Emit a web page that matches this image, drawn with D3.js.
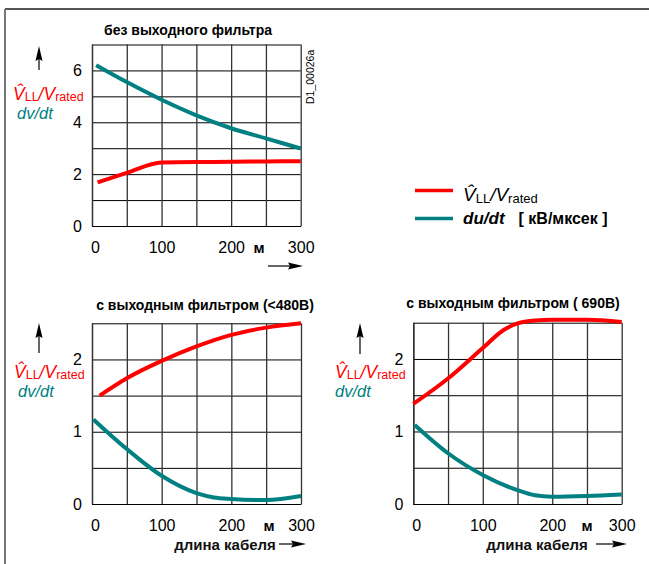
<!DOCTYPE html>
<html>
<head>
<meta charset="utf-8">
<script src="https://cdn.jsdelivr.net/npm/d3@7"></script>
<style>
  body { margin: 0; background: #fff; }
  text { font-family: "Liberation Sans", Arial, sans-serif; }
</style>
</head>
<body>
<svg id="chart" width="649" height="564"></svg>
<script>
// cable length ticks, m
const xGrid = [0, 50, 100, 150, 200, 250, 300];
const xTicks = [0, 100, 200, 300];

// panel 1: без выходного фильтра
const p1VDist = [8, 50, 100, 175, 250, 300];
const p1V = [1.68, 2.05, 2.45, 2.47, 2.49, 2.5];
const p1DvDist = [6, 50, 100, 150, 200, 250, 300];
const p1Dv = [6.2, 5.55, 4.87, 4.27, 3.77, 3.38, 2.99];
const p1YGrid = [0, 1, 2, 3, 4, 5, 6, 7];
const p1YTicks = [0, 2, 4, 6];

// panel 2: с выходным фильтром (<480В)
const p2VDist = [11, 50, 100, 150, 200, 250, 300];
const p2V = [1.5, 1.74, 1.98, 2.18, 2.34, 2.44, 2.5];
const p2DvDist = [2, 50, 100, 150, 175, 200, 250, 300];
const p2Dv = [1.17, 0.76, 0.39, 0.15, 0.09, 0.07, 0.055, 0.11];

// panel 3: с выходным фильтром ( 690В)
const p3VDist = [0, 50, 100, 130, 150, 175, 200, 250, 300];
const p3V = [1.38, 1.73, 2.15, 2.4, 2.49, 2.53, 2.54, 2.54, 2.51];
const p3DvDist = [2, 50, 100, 150, 175, 200, 250, 300];
const p3Dv = [1.09, 0.70, 0.40, 0.19, 0.12, 0.10, 0.11, 0.13];

const filtYGrid = [0, 0.5, 1, 1.5, 2, 2.5];
const filtYTicks = [0, 1, 2];

const red = "#ff0000";
const teal = "#008080";

let svg = d3.select("#chart");

// frame
svg.append("line").attr("x1", 5).attr("x2", 649).attr("y1", 9).attr("y2", 9)
    .attr("stroke", "#555").attr("stroke-width", 2);
svg.append("line").attr("x1", 5).attr("x2", 5).attr("y1", 9).attr("y2", 564)
    .attr("stroke", "#777").attr("stroke-width", 2);

let panels = [
    {title: "без выходного фильтра", titleX: 188, titleY: 35,
     x0: 92, x1: 300.7, y0: 226, y1: 44.5, ymax: 7, yGrid: p1YGrid, yTicks: p1YTicks,
     mX: 259, arrowY: 266, arrowX: 268, arrowX2: 303, showLength: false,
     vArrowX: 39, vArrowTop: 46, vArrowBot: 70, labX: 13, labX2: 17, labY: 100, labY2: 119,
     v: [p1VDist, p1V], dv: [p1DvDist, p1Dv]},
    {title: "с выходным фильтром (<480В)", titleX: 205, titleY: 309.5,
     x0: 92, x1: 301, y0: 504, y1: 323.3, ymax: 2.5, yGrid: filtYGrid, yTicks: filtYTicks,
     mX: 269, arrowY: 544, arrowX: 279, arrowX2: 306, showLength: true, lenX: 225,
     vArrowX: 39, vArrowTop: 323, vArrowBot: 353, labX: 14, labX2: 18, labY: 378, labY2: 397,
     v: [p2VDist, p2V], dv: [p2DvDist, p2Dv]},
    {title: "с выходным фильтром ( 690В)", titleX: 513, titleY: 308,
     x0: 413.3, x1: 621.7, y0: 504, y1: 322.7, ymax: 2.5, yGrid: filtYGrid, yTicks: filtYTicks,
     mX: 587, arrowY: 544, arrowX: 596, arrowX2: 627, showLength: true, lenX: 537,
     vArrowX: 360, vArrowTop: 323, vArrowBot: 354, labX: 335, labX2: 335, labY: 378, labY2: 397,
     v: [p3VDist, p3V], dv: [p3DvDist, p3Dv]}
];

function drawPanel(p) {
    let g = svg.append("g");
    let xScale = d3.scaleLinear().domain([0, 300]).range([p.x0, p.x1]);
    let yScale = d3.scaleLinear().domain([0, p.ymax]).range([p.y0, p.y1]);

    // horizontal grid lines
    g.append("g")
        .attr("transform", "translate(" + p.x0 + ",0)")
        .call(d3.axisRight(yScale).tickValues(p.yGrid).tickSize(p.x1 - p.x0)
            .tickFormat("").tickSizeOuter(0))
        .call(a => a.selectAll("line").attr("stroke", "#000").attr("stroke-width", 1))
        .call(a => a.select(".domain").attr("stroke", "#000").attr("stroke-width", 1.2));

    // vertical grid lines
    g.append("g")
        .attr("transform", "translate(0," + p.y0 + ")")
        .call(d3.axisTop(xScale).tickValues(xGrid).tickSize(p.y0 - p.y1)
            .tickFormat("").tickSizeOuter(0))
        .call(a => a.selectAll("line").attr("stroke", "#333").attr("stroke-width", 1.3))
        .call(a => a.select(".domain").attr("stroke", "#000").attr("stroke-width", 1.2));

    // y tick labels
    g.append("g")
        .attr("transform", "translate(" + p.x0 + ",0)")
        .call(d3.axisLeft(yScale).tickValues(p.yTicks).tickSize(0).tickPadding(10)
            .tickFormat(d3.format("d")))
        .call(a => a.select(".domain").remove())
        .call(a => a.selectAll("text").attr("font-size", 16).attr("fill", "#000")
            .attr("font-family", "Liberation Sans, Arial, sans-serif"));

    // x tick labels
    g.append("g")
        .attr("transform", "translate(0," + p.y0 + ")")
        .call(d3.axisBottom(xScale).tickValues(xTicks).tickSize(0).tickPadding(15.5)
            .tickFormat(d3.format("d")))
        .call(a => a.select(".domain").remove())
        .call(a => a.selectAll("text").attr("font-size", 16).attr("fill", "#000")
            .attr("font-family", "Liberation Sans, Arial, sans-serif")
            .attr("dx", d => d === 0 ? 3 : 0));

    // unit
    g.append("text").attr("x", p.mX).attr("y", p.y0 + 27)
        .attr("text-anchor", "middle").attr("font-size", 15).attr("font-weight", "bold")
        .text("м");

    // x arrow
    g.append("line").attr("x1", p.arrowX).attr("x2", p.arrowX2 - 10)
        .attr("y1", p.arrowY).attr("y2", p.arrowY).attr("stroke", "#000").attr("stroke-width", 1.2);
    g.append("path")
        .attr("d", "M" + p.arrowX2 + "," + p.arrowY + " l-15,-3.5 l2,3.5 l-2,3.5 z")
        .attr("fill", "#000");

    if (p.showLength) {
        g.append("text").attr("x", p.lenX).attr("y", p.arrowY + 6)
            .attr("text-anchor", "middle").attr("font-size", 15).attr("font-weight", "bold")
            .attr("fill", "#111")
            .text("длина кабеля");
    }

    // y arrow
    g.append("line").attr("x1", p.vArrowX).attr("x2", p.vArrowX)
        .attr("y1", p.vArrowBot).attr("y2", p.vArrowTop + 10)
        .attr("stroke", "#000").attr("stroke-width", 1.2);
    g.append("path")
        .attr("d", "M" + p.vArrowX + "," + p.vArrowTop + " l-3.5,15 l3.5,-2 l3.5,2 z")
        .attr("fill", "#000");

    // y label
    let lab = g.append("text").attr("x", p.labX).attr("y", p.labY)
        .attr("fill", red).attr("font-size", 17.5);
    lab.append("tspan").attr("font-style", "italic").text("V\u0302");
    lab.append("tspan").attr("font-size", 12.5).attr("dy", 1).text("LL");
    lab.append("tspan").attr("dy", -1).attr("font-style", "italic").text("/V");
    lab.append("tspan").attr("font-size", 12.5).attr("dy", 1).text("rated");
    g.append("text").attr("x", p.labX2).attr("y", p.labY2)
        .attr("fill", teal).attr("font-size", 16.5).attr("font-style", "italic")
        .text("dv/dt");

    // title
    g.append("text").attr("x", p.titleX).attr("y", p.titleY)
        .attr("text-anchor", "middle").attr("font-size", 14).attr("font-weight", "bold")
        .text(p.title);

    // curves
    let line = d3.line().curve(d3.curveMonotoneX)
        .x(d => xScale(d[0])).y(d => yScale(d[1]));
    g.append("path").datum(d3.zip(p.dv[0], p.dv[1]))
        .attr("d", line).attr("fill", "none").attr("stroke", teal).attr("stroke-width", 4);
    g.append("path").datum(d3.zip(p.v[0], p.v[1]))
        .attr("d", line).attr("fill", "none").attr("stroke", red).attr("stroke-width", 4);
}

panels.forEach(drawPanel);

// drawing id
svg.append("text").attr("transform", "translate(314,104) rotate(-90)")
    .attr("font-size", 10.5).text("D1_00026a");

// legend
let legend = svg.append("g");
legend.append("line").attr("x1", 415).attr("x2", 453).attr("y1", 190.5).attr("y2", 190.5)
    .attr("stroke", red).attr("stroke-width", 3.5);
legend.append("line").attr("x1", 415).attr("x2", 453).attr("y1", 218.5).attr("y2", 218.5)
    .attr("stroke", teal).attr("stroke-width", 3.5);
let lt = legend.append("text").attr("x", 463).attr("y", 201).attr("font-size", 19);
lt.append("tspan").attr("font-style", "italic").text("V\u0302");
lt.append("tspan").attr("font-size", 13).attr("dy", 2).text("LL");
lt.append("tspan").attr("dy", -2).attr("font-style", "italic").text("/V");
lt.append("tspan").attr("font-size", 13).attr("dy", 2).text("rated");
let lt2 = legend.append("text").attr("x", 463).attr("y", 224).attr("font-size", 17)
    .attr("font-weight", "bold");
lt2.append("tspan").attr("font-style", "italic").text("du/dt");
lt2.append("tspan").attr("dx", 14).attr("font-size", 16).text("[ кВ/мксек ]");
</script>
</body>
</html>
